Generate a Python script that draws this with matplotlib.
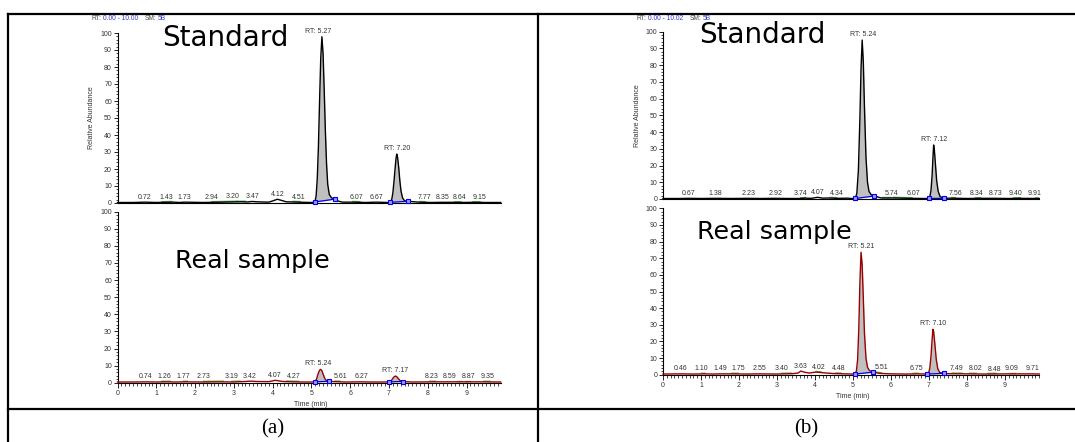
import numpy as np
import matplotlib
matplotlib.use("Agg")
import matplotlib.pyplot as plt
from matplotlib.lines import Line2D
from matplotlib.ticker import MultipleLocator

plt.rcParams['font.family'] = ['Liberation Sans', 'DejaVu Sans']

W, H = 1075, 442

# ---- (a) standard: time (min) / relative abundance ----
std_a_t = [0.00, 0.40, 0.72, 1.00, 1.43, 1.60, 1.73, 2.20, 2.94, 3.20,
           3.35, 3.47, 3.60, 3.90, 4.00, 4.12, 4.22, 4.35, 4.51, 4.80,
           5.00, 5.09, 5.12, 5.15, 5.18, 5.21, 5.24, 5.27, 5.30, 5.33,
           5.36, 5.39, 5.42, 5.46, 5.52, 5.61, 5.68, 5.80, 6.07, 6.40,
           6.67, 6.95, 7.03, 7.07, 7.10, 7.13, 7.16, 7.18, 7.20, 7.22,
           7.25, 7.28, 7.31, 7.35, 7.40, 7.50, 7.77, 8.10, 8.35, 8.64,
           8.90, 9.15, 9.50, 9.88]
std_a_y = [0.3, 0.3, 0.5, 0.3, 0.5, 0.3, 0.5, 0.3, 0.6, 0.7,
           0.6, 0.9, 0.7, 0.5, 1.2, 2.2, 1.6, 0.7, 0.6, 0.4,
           0.3, 0.6, 4.0, 14.0, 33.0, 60.0, 85.0, 97.8, 88.0, 66.0,
           42.0, 23.0, 11.0, 5.0, 3.0, 2.3, 1.2, 0.5, 0.5, 0.3,
           0.5, 0.3, 0.4, 2.0, 6.0, 13.0, 21.0, 26.0, 28.8, 27.0,
           21.0, 13.0, 7.0, 3.0, 1.3, 1.0, 0.5, 0.3, 0.4, 0.4,
           0.3, 0.4, 0.3, 0.3]
std_a_peaks = [5.27, 7.20]
std_a_peak_lx = [5.17, 7.20]
std_a_win = [(5.09, 5.61), (7.03, 7.50)]
std_a_minor = [0.72, 1.43, 1.73, 2.94, 3.20, 3.47, 4.12, 4.51, 6.07, 6.67, 7.77, 8.35, 8.64, 9.15]
std_a_minor_lx = [0.71, 1.25, 1.73, 2.42, 2.97, 3.47, 4.12, 4.68, 6.15, 6.67, 7.91, 8.37, 8.83, 9.33]
std_a_green = [(1.14, 1.40), (2.43, 3.08), (3.08, 3.30), (4.53, 4.71), (6.07, 6.25),
               (7.80, 7.93), (8.70, 8.87), (9.17, 9.35)]

# ---- (a) real sample ----
sam_a_t = [0.00, 0.40, 0.74, 1.00, 1.26, 1.50, 1.77, 2.20, 2.73, 3.00,
           3.19, 3.30, 3.42, 3.60, 3.90, 4.07, 4.20, 4.27, 4.50, 4.80,
           5.00, 5.09, 5.13, 5.17, 5.21, 5.24, 5.27, 5.31, 5.35, 5.40,
           5.46, 5.61, 5.90, 6.27, 6.60, 6.90, 7.01, 7.06, 7.10, 7.14,
           7.17, 7.20, 7.24, 7.29, 7.36, 7.60, 8.23, 8.59, 8.87, 9.35,
           9.88]
sam_a_y = [0.4, 0.4, 0.5, 0.4, 0.5, 0.4, 0.5, 0.4, 0.5, 0.4,
           0.6, 0.7, 0.9, 0.7, 0.6, 1.4, 0.9, 0.7, 0.5, 0.4,
           0.4, 0.5, 2.0, 5.0, 7.3, 7.8, 7.0, 4.5, 2.2, 1.0,
           0.8, 0.6, 0.4, 0.5, 0.4, 0.4, 0.5, 1.2, 2.6, 3.6,
           3.9, 3.5, 2.4, 1.2, 0.7, 0.4, 0.5, 0.5, 0.5, 0.5,
           0.4]
sam_a_peaks = [5.24, 7.17]
sam_a_peak_lx = [5.18, 7.16]
sam_a_win = [(5.09, 5.46), (7.01, 7.36)]
sam_a_minor = [0.74, 1.26, 1.77, 2.73, 3.19, 3.42, 4.07, 4.27, 5.61, 6.27, 8.23, 8.59, 8.87, 9.35]
sam_a_minor_lx = [0.72, 1.21, 1.70, 2.21, 2.94, 3.41, 4.06, 4.55, 5.75, 6.28, 8.09, 8.56, 9.05, 9.53]
sam_a_green = [(1.14, 1.36), (1.70, 1.80), (2.22, 2.73), (2.95, 3.16), (4.37, 4.67),
               (5.61, 5.74), (8.05, 8.20), (8.75, 8.85), (8.95, 9.10), (9.45, 9.60)]

# ---- (b) standard ----
std_b_t = [0.00, 0.40, 0.67, 1.00, 1.38, 1.80, 2.23, 2.60, 2.92, 3.30,
           3.60, 3.74, 3.90, 4.07, 4.20, 4.34, 4.60, 4.85, 4.95, 5.06,
           5.10, 5.14, 5.18, 5.21, 5.24, 5.27, 5.30, 5.34, 5.38, 5.42,
           5.48, 5.56, 5.74, 6.07, 6.50, 6.90, 6.99, 7.02, 7.05, 7.08,
           7.10, 7.12, 7.14, 7.17, 7.20, 7.24, 7.29, 7.38, 7.56, 8.00,
           8.34, 8.73, 9.10, 9.40, 9.90]
std_b_y = [0.3, 0.3, 0.4, 0.3, 0.4, 0.3, 0.4, 0.3, 0.4, 0.3,
           0.3, 0.5, 0.4, 1.0, 0.5, 0.6, 0.4, 0.5, 0.3, 0.3,
           3.5, 17.0, 48.0, 78.0, 95.0, 82.0, 55.0, 25.0, 10.0, 4.5,
           2.5, 1.8, 0.6, 0.6, 0.4, 0.3, 0.3, 1.5, 5.0, 14.0,
           24.0, 32.3, 29.0, 20.0, 11.0, 4.5, 1.5, 0.4, 0.5, 0.3,
           0.4, 0.4, 0.3, 0.4, 0.3]
std_b_peaks = [5.24, 7.12]
std_b_peak_lx = [5.26, 7.14]
std_b_win = [(5.06, 5.56), (6.99, 7.38)]
std_b_minor = [0.67, 1.38, 2.23, 2.92, 3.74, 4.07, 4.34, 5.74, 6.07, 7.56, 8.34, 8.73, 9.40, 9.91]
std_b_minor_lx = [0.67, 1.38, 2.24, 2.95, 3.62, 4.07, 4.57, 6.00, 6.59, 7.69, 8.26, 8.76, 9.27, 9.78]
std_b_green = [(3.62, 3.75), (4.40, 4.57), (5.76, 5.98), (6.06, 6.55), (7.60, 7.69),
               (8.22, 8.35), (9.22, 9.40), (9.80, 9.90)]

# ---- (b) real sample ----
sam_b_t = [0.00, 0.46, 0.80, 1.10, 1.30, 1.49, 1.75, 2.20, 2.55, 3.00,
           3.40, 3.55, 3.63, 3.72, 3.85, 4.02, 4.15, 4.30, 4.48, 4.80,
           4.98, 5.06, 5.09, 5.12, 5.15, 5.18, 5.21, 5.24, 5.27, 5.30,
           5.34, 5.38, 5.43, 5.52, 5.70, 6.00, 6.40, 6.75, 6.95, 6.99,
           7.02, 7.05, 7.08, 7.10, 7.12, 7.15, 7.19, 7.23, 7.28, 7.40,
           7.49, 8.02, 8.48, 9.09, 9.71, 9.90]
sam_b_y = [0.4, 0.5, 0.4, 0.5, 0.4, 0.5, 0.5, 0.4, 0.5, 0.4,
           0.6, 1.0, 2.2, 1.5, 1.0, 1.6, 1.3, 1.0, 0.7, 0.5,
           0.4, 0.4, 2.5, 9.0, 27.0, 55.0, 73.6, 66.0, 46.0, 25.0,
           10.0, 4.5, 2.5, 1.5, 0.8, 0.5, 0.4, 0.5, 0.4, 1.2,
           4.0, 11.0, 21.0, 27.3, 26.0, 19.0, 9.0, 3.5, 1.3, 0.8,
           0.6, 0.5, 0.4, 0.5, 0.5, 0.4]
sam_b_peaks = [5.21, 7.10]
sam_b_peak_lx = [5.21, 7.10]
sam_b_win = [(5.06, 5.52), (6.95, 7.40)]
sam_b_minor = [0.46, 1.10, 1.49, 1.75, 2.55, 3.40, 3.63, 4.02, 4.48, 5.51, 6.75, 7.49, 8.02, 8.48, 9.09, 9.71]
sam_b_minor_lx = [0.47, 1.01, 1.50, 1.99, 2.55, 3.13, 3.63, 4.11, 4.61, 5.75, 6.66, 7.73, 8.22, 8.71, 9.18, 9.71]
sam_b_green = [(1.01, 1.10), (1.80, 1.98), (3.11, 3.38), (4.03, 4.16), (4.55, 4.68),
               (5.60, 5.75), (6.58, 6.71), (7.61, 7.87), (8.07, 8.24), (8.55, 8.76), (9.13, 9.26)]


def px_axes(fig, x0, x1, ytop, ybot):
    return fig.add_axes([x0 / W, 1 - ybot / H, (x1 - x0) / W, (ybot - ytop) / H])


def ftext(fig, x, y, s, **kw):
    return fig.text(x / W, 1 - y / H, s, **kw)


def draw_panel(ax, t, y, color, peaks, peak_lx, win, minor, minor_lx, green, xmax, bottom):
    t = np.asarray(t)
    y = np.asarray(y)
    ax.set_xlim(0, xmax)
    ax.set_ylim(0, 100)
    for side in ('top', 'right'):
        ax.spines[side].set_visible(False)
    ax.spines['left'].set_linewidth(0.8)
    ax.spines['bottom'].set_linewidth(0.8)

    # integrated peaks: grey area + blue baseline
    for s, e in win:
        tt = np.concatenate(([s], t[(t > s) & (t < e)], [e]))
        yy = np.interp(tt, t, y)
        base = np.interp(tt, [s, e], [yy[0], yy[-1]])
        ax.fill_between(tt, base, yy, color='#c0c0c0', lw=0, zorder=2)
        ax.plot([s, e], [yy[0], yy[-1]], color='#0000ee', lw=0.9, marker='s', ms=3,
                mfc='#9999ff', mec='#0000ee', mew=0.8, zorder=6, clip_on=False)

    for g0, g1 in green:
        ax.plot([g0, g1], np.interp([g0, g1], t, y) + 0.4, color='#55bb55', lw=1.0, zorder=3)

    ax.plot(t, y, color=color, lw=1.0, zorder=5, clip_on=False)

    for rt, lx in zip(minor, minor_lx):
        ax.annotate(f'{rt:.2f}', (lx, np.interp(rt, t, y)), xytext=(0, 1.0),
                    textcoords='offset points', ha='center', va='bottom',
                    fontsize=5, color='#333333', annotation_clip=False)
    for rt, lx in zip(peaks, peak_lx):
        ax.annotate(f'RT: {rt:.2f}', (lx, np.interp(rt, t, y)), xytext=(0, 1.5),
                    textcoords='offset points', ha='center', va='bottom',
                    fontsize=5, color='#333333', annotation_clip=False)

    ax.yaxis.set_major_locator(MultipleLocator(10))
    ax.yaxis.set_minor_locator(MultipleLocator(2))
    ax.tick_params(axis='y', which='major', length=3, width=0.6, pad=1,
                   labelsize=5, labelcolor='#333333')
    ax.tick_params(axis='y', which='minor', length=1.8, width=0.5)
    if bottom:
        ax.xaxis.set_major_locator(MultipleLocator(1))
        ax.xaxis.set_minor_locator(MultipleLocator(0.1))
        ax.tick_params(axis='x', which='major', length=3.5, width=0.6, pad=1.5,
                       labelsize=5, labelcolor='#333333')
        ax.tick_params(axis='x', which='minor', length=1.8, width=0.5)
    else:
        ax.tick_params(axis='x', which='both', bottom=False, labelbottom=False)


fig = plt.figure(figsize=(W / 100, H / 100), dpi=100)

ax_a1 = px_axes(fig, 117.5, 500.7, 33, 203)
ax_a2 = px_axes(fig, 117.5, 500.7, 211.7, 382.7)
ax_b1 = px_axes(fig, 663.0, 1039.3, 31.7, 199)
ax_b2 = px_axes(fig, 663.0, 1039.3, 208.3, 374.7)

draw_panel(ax_a1, std_a_t, std_a_y, 'black', std_a_peaks, std_a_peak_lx, std_a_win,
           std_a_minor, std_a_minor_lx, std_a_green, 9.88, False)
draw_panel(ax_a2, sam_a_t, sam_a_y, '#990000', sam_a_peaks, sam_a_peak_lx, sam_a_win,
           sam_a_minor, sam_a_minor_lx, sam_a_green, 9.88, True)
draw_panel(ax_b1, std_b_t, std_b_y, 'black', std_b_peaks, std_b_peak_lx, std_b_win,
           std_b_minor, std_b_minor_lx, std_b_green, 9.90, False)
draw_panel(ax_b2, sam_b_t, sam_b_y, '#990000', sam_b_peaks, sam_b_peak_lx, sam_b_win,
           sam_b_minor, sam_b_minor_lx, sam_b_green, 9.90, True)

for ax in (ax_a1, ax_b1):
    ax.set_ylabel('Relative Abundance', fontsize=5, color='#333333')
    ax.yaxis.set_label_coords(-0.058, 0.5)
for ax in (ax_a2, ax_b2):
    ax.set_xlabel('Time (min)', fontsize=5, color='#333333')
    ax.xaxis.set_label_coords(0.505, -0.108)

# header text "RT: ... SM: 5B"
grey, blue = '#444444', '#3333cc'
for x0, rng in ((91.7, '0.00 - 10.00'), (636.7, '0.00 - 10.02')):
    ftext(fig, x0, 18.5, 'RT:', fontsize=4.8, color=grey, va='center')
    ftext(fig, x0 + 11.5, 18.5, rng, fontsize=4.8, color=blue, va='center')
    ftext(fig, x0 + 53.5, 18.5, 'SM:', fontsize=4.8, color=grey, va='center')
    ftext(fig, x0 + 66.0, 18.5, '5B', fontsize=4.8, color=blue, va='center')

# big panel captions
big = dict(family='DejaVu Sans', ha='left', va='baseline', color='black')
ftext(fig, 161.7, 46.5, 'Standard', fontsize=20, **big)
ftext(fig, 699.3, 43.3, 'Standard', fontsize=20, **big)
ftext(fig, 175.0, 268.3, 'Real sample', fontsize=18.3, **big)
ftext(fig, 697.0, 239.3, 'Real sample', fontsize=18.3, **big)

# table frame
lines = [((8, 1075), (14, 14)), ((8, 8), (14, 442)), ((538, 538), (14, 442)),
         ((8, 1075), (409, 409))]
for xs, ys in lines:
    fig.add_artist(Line2D([x / W for x in xs], [1 - y / H for y in ys],
                          color='black', lw=1.6))

ftext(fig, 273, 429, '(a)', fontsize=15, family='Liberation Serif', ha='center', va='center')
ftext(fig, 806, 429, '(b)', fontsize=15, family='Liberation Serif', ha='center', va='center')

fig.savefig('out.png', dpi=100)
